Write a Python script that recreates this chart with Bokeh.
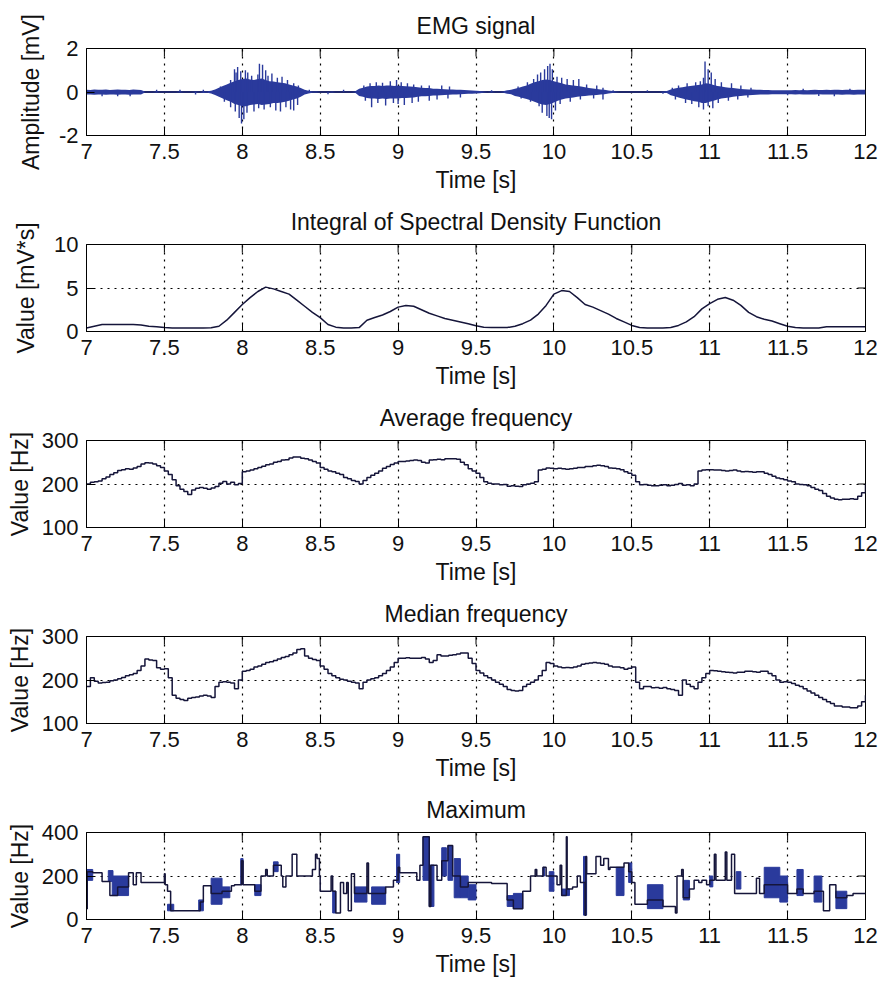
import numpy as np
from bokeh.plotting import figure
from bokeh.models import FixedTicker, Range1d, Title, CustomJSTickFormatter
from bokeh.layouts import column
from bokeh.embed import file_html
from bokeh.resources import INLINE

FONT = "Liberation Sans"
LINE = "#15153a"
BLUE = "#2a3a9c"

x_ticks = [7, 7.5, 8, 8.5, 9, 9.5, 10, 10.5, 11, 11.5, 12]

# uniform sample grids
t_emg = np.linspace(7.0, 12.0, 201)
t_isdf = np.linspace(7.0, 12.0, 101)
t_freq = np.linspace(7.0, 12.0, 201)

# EMG [mV]: dense core of the raw trace (upper / lower bound)
emg_hi = [
    0.10, 0.09, 0.11, 0.10, 0.10, 0.11, 0.09, 0.10, 0.11, 0.10,
    0.10, 0.09, 0.11, 0.10, 0.09, 0.02, 0.02, 0.02, 0.03, 0.02,
    0.02, 0.02, 0.02, 0.02, 0.03, 0.02, 0.02, 0.02, 0.03, 0.02,
    0.04, 0.04, 0.06, 0.12, 0.20, 0.28, 0.35, 0.42, 0.50, 0.55,
    0.60, 0.62, 0.58, 0.55, 0.60, 0.62, 0.55, 0.50, 0.48, 0.45,
    0.42, 0.40, 0.35, 0.30, 0.25, 0.18, 0.10, 0.06, 0.04, 0.03,
    0.02, 0.02, 0.02, 0.03, 0.02, 0.02, 0.02, 0.02, 0.02, 0.04,
    0.15, 0.20, 0.25, 0.28, 0.28, 0.30, 0.28, 0.30, 0.30, 0.28,
    0.30, 0.28, 0.26, 0.25, 0.24, 0.22, 0.20, 0.18, 0.18, 0.15,
    0.15, 0.14, 0.13, 0.12, 0.12, 0.10, 0.10, 0.09, 0.08, 0.07,
    0.06, 0.05, 0.03, 0.02, 0.03, 0.02, 0.02, 0.04, 0.08, 0.10,
    0.15, 0.20, 0.25, 0.30, 0.38, 0.45, 0.50, 0.55, 0.58, 0.55,
    0.50, 0.45, 0.40, 0.35, 0.32, 0.30, 0.28, 0.25, 0.22, 0.18,
    0.16, 0.14, 0.12, 0.10, 0.07, 0.05, 0.03, 0.02, 0.02, 0.02,
    0.02, 0.02, 0.02, 0.02, 0.02, 0.02, 0.02, 0.02, 0.03, 0.05,
    0.12, 0.16, 0.20, 0.22, 0.25, 0.28, 0.30, 0.32, 0.35, 0.40,
    0.38, 0.32, 0.28, 0.25, 0.22, 0.20, 0.18, 0.16, 0.14, 0.13,
    0.12, 0.11, 0.10, 0.10, 0.09, 0.09, 0.08, 0.08, 0.08, 0.08,
    0.08, 0.08, 0.09, 0.08, 0.09, 0.08, 0.09, 0.10, 0.09, 0.09,
    0.10, 0.09, 0.10, 0.10, 0.09, 0.10, 0.10, 0.09, 0.10, 0.10,
    0.10,
]
emg_lo = [
    -0.12, -0.11, -0.13, -0.12, -0.12, -0.13, -0.11, -0.12, -0.13, -0.12,
    -0.12, -0.13, -0.11, -0.12, -0.11, -0.02, -0.02, -0.02, -0.03, -0.02,
    -0.02, -0.02, -0.02, -0.02, -0.03, -0.02, -0.02, -0.02, -0.03, -0.02,
    -0.05, -0.04, -0.07, -0.14, -0.22, -0.30, -0.38, -0.45, -0.55, -0.60,
    -0.65, -0.65, -0.60, -0.58, -0.55, -0.60, -0.58, -0.55, -0.50, -0.50,
    -0.48, -0.45, -0.40, -0.35, -0.30, -0.22, -0.12, -0.07, -0.04, -0.03,
    -0.02, -0.02, -0.02, -0.03, -0.02, -0.02, -0.02, -0.02, -0.02, -0.04,
    -0.18, -0.22, -0.28, -0.30, -0.30, -0.32, -0.30, -0.32, -0.30, -0.30,
    -0.30, -0.28, -0.28, -0.26, -0.25, -0.22, -0.20, -0.20, -0.18, -0.16,
    -0.16, -0.15, -0.14, -0.13, -0.12, -0.11, -0.10, -0.09, -0.08, -0.08,
    -0.07, -0.06, -0.03, -0.02, -0.03, -0.02, -0.02, -0.04, -0.08, -0.10,
    -0.18, -0.22, -0.28, -0.32, -0.38, -0.45, -0.52, -0.58, -0.60, -0.55,
    -0.48, -0.40, -0.35, -0.30, -0.28, -0.25, -0.22, -0.20, -0.18, -0.16,
    -0.15, -0.14, -0.12, -0.10, -0.07, -0.05, -0.03, -0.02, -0.02, -0.02,
    -0.02, -0.02, -0.02, -0.02, -0.02, -0.02, -0.02, -0.02, -0.03, -0.05,
    -0.15, -0.20, -0.25, -0.30, -0.35, -0.38, -0.42, -0.45, -0.50, -0.50,
    -0.45, -0.40, -0.35, -0.30, -0.28, -0.25, -0.22, -0.20, -0.18, -0.16,
    -0.15, -0.14, -0.13, -0.12, -0.12, -0.11, -0.10, -0.10, -0.10, -0.10,
    -0.10, -0.10, -0.11, -0.10, -0.11, -0.12, -0.11, -0.11, -0.10, -0.12,
    -0.12, -0.11, -0.12, -0.12, -0.13, -0.12, -0.12, -0.13, -0.12, -0.12,
    -0.12,
]

# EMG [mV]: single excursions reaching beyond the dense core
emg_spk_t = [
    7.10, 7.20, 7.28, 7.45, 7.60, 7.70, 7.75,
    7.860, 7.925, 7.950, 7.960, 7.970, 7.990, 8.020, 8.035, 8.060, 8.100,
    8.110, 8.130, 8.150, 8.165, 8.190, 8.225, 8.255, 8.290, 8.330, 8.360,
    7.885, 7.925, 7.955, 7.980, 7.995, 8.010, 8.030, 8.075, 8.105, 8.140,
    8.180, 8.215, 8.245, 8.280, 8.310, 8.330, 8.355,
    8.43, 8.55, 8.65,
    8.78, 8.82, 8.86, 8.90, 8.95, 8.99, 9.02, 9.06, 9.10, 9.15, 9.20, 9.28, 9.33,
    8.79, 8.83, 8.87, 8.92, 8.97, 9.00, 9.04, 9.09, 9.13, 9.20, 9.25, 9.32, 9.40,
    9.60,
    9.770, 9.830, 9.870, 9.895, 9.915, 9.940, 9.960, 9.975, 9.990, 10.020,
    10.050, 10.085, 10.125, 10.160, 10.210, 10.275, 10.315,
    9.790, 9.850, 9.905, 9.925, 9.955, 9.970, 9.985, 10.010, 10.040, 10.105,
    10.170, 10.255, 10.315,
    10.38, 10.60, 10.70,
    10.760, 10.800, 10.855, 10.910, 10.940, 10.960, 10.970, 10.990, 11.010, 11.035,
    11.075, 11.140, 11.200, 11.265,
    10.780, 10.845, 10.885, 10.930, 10.960, 10.990, 11.020, 11.055, 11.120, 11.180,
    11.245,
    11.50, 11.60, 11.70, 11.80, 11.90,
]
emg_spk_y = [
    -0.20, -0.20, -0.20, 0.10, 0.10, -0.12, 0.10,
    0.25, 0.55, 1.05, 0.90, 1.15, 0.95, 1.00, 0.90, 0.75, 0.80,
    1.30, 1.25, 1.00, 0.75, 0.85, 0.65, 0.70, 0.55, 0.40, 0.30,
    -0.45, -0.70, -0.90, -1.20, -1.45, -1.25, -0.95, -0.90, -0.75, -0.80,
    -0.70, -0.85, -0.90, -0.70, -0.80, -0.85, -0.60,
    0.10, -0.10, 0.10,
    0.30, 0.40, 0.45, 0.42, 0.50, 0.55, 0.45, 0.40, 0.35, 0.30, 0.30, 0.30, 0.25,
    -0.40, -0.70, -0.50, -0.62, -0.50, -0.55, -0.60, -0.50, -0.45, -0.40, -0.35, -0.30, -0.25,
    0.08,
    0.25, 0.45, 0.60, 0.80, 0.90, 1.05, 1.20, 1.30, 1.05, 0.70,
    0.65, 0.60, 0.55, 0.60, 0.35, 0.30, 0.20,
    -0.30, -0.45, -0.65, -0.95, -1.10, -1.20, -1.25, -0.85, -0.55, -0.45,
    -0.35, -0.30, -0.35,
    0.08, 0.08, -0.08,
    0.20, 0.30, 0.40, 0.45, 0.50, 0.65, 1.40, 1.05, 0.90, 0.60,
    0.45, 0.40, 0.30, 0.20,
    -0.35, -0.50, -0.55, -0.70, -0.80, -0.65, -0.75, -0.50, -0.40, -0.35,
    -0.25,
    -0.15, 0.15, -0.18, -0.20, 0.15,
]

# integral of the spectral density function [mV*s]
isdf = [
    0.40, 0.60, 0.80, 0.80, 0.80, 0.80, 0.80, 0.75, 0.60, 0.55,
    0.45, 0.40, 0.40, 0.40, 0.40, 0.40, 0.42, 0.60, 1.30, 2.20,
    3.10, 3.90, 4.60, 5.10, 4.90, 4.60, 4.30, 3.60, 2.90, 2.20,
    1.60, 0.80, 0.50, 0.40, 0.40, 0.45, 1.30, 1.60, 1.90, 2.30,
    2.80, 3.00, 2.90, 2.50, 2.10, 1.80, 1.50, 1.30, 1.10, 0.90,
    0.65, 0.50, 0.45, 0.45, 0.45, 0.60, 0.90, 1.30, 2.00, 3.00,
    4.30, 4.70, 4.60, 3.90, 3.10, 2.80, 2.40, 2.00, 1.50, 1.10,
    0.70, 0.45, 0.40, 0.40, 0.40, 0.45, 0.70, 1.10, 1.70, 2.60,
    3.20, 3.70, 3.90, 3.60, 3.00, 2.20, 1.70, 1.40, 1.20, 0.90,
    0.60, 0.45, 0.40, 0.40, 0.40, 0.55, 0.55, 0.55, 0.55, 0.55,
    0.55,
]

# average frequency [Hz]
avg_freq = [
    200, 204, 205, 207, 212, 216, 222, 226, 231, 233,
    235, 234, 237, 240, 246, 249, 248, 246, 242, 238,
    230, 222, 210, 196, 188, 183, 176, 186, 190, 192,
    190, 188, 191, 194, 202, 206, 200, 204, 198, 201,
    228, 230, 232, 235, 238, 241, 244, 246, 250, 252,
    255, 256, 260, 262, 262, 259, 258, 255, 252, 248,
    238, 234, 230, 228, 225, 222, 215, 212, 208, 206,
    200, 208, 215, 220, 225, 230, 236, 240, 245, 248,
    252, 252, 253, 254, 255, 254, 250, 248, 255, 256,
    257, 256, 258, 258, 258, 257, 250, 244, 235, 230,
    225, 215, 205, 202, 200, 200, 198, 199, 195, 196,
    195, 194, 198, 200, 202, 205, 232, 234, 237, 236,
    235, 236, 235, 234, 235, 236, 238, 238, 240, 240,
    242, 243, 242, 240, 237, 236, 235, 233, 228, 225,
    220, 205, 198, 199, 197, 196, 196, 197, 198, 196,
    197, 199, 201, 197, 198, 196, 200, 230, 232, 233,
    233, 232, 232, 231, 230, 231, 232, 230, 228, 229,
    228, 227, 228, 228, 225, 222, 218, 214, 212, 210,
    207, 205, 200, 199, 198, 196, 192, 188, 185, 178,
    172, 168, 165, 164, 165, 165, 166, 165, 172, 180,
    200,
]

# median frequency [Hz]
med_freq = [
    185, 205, 197, 193, 194, 195, 198, 200, 203, 206,
    210, 212, 215, 222, 232, 248, 246, 245, 228, 225,
    226, 205, 165, 158, 155, 153, 158, 160, 161, 163,
    165, 163, 160, 185, 195, 196, 195, 193, 180, 200,
    220, 222, 225, 230, 232, 236, 240, 242, 245, 248,
    252, 254, 258, 262, 270, 272, 255, 250, 247, 245,
    232, 225, 215, 210, 205, 202, 200, 197, 195, 193,
    180, 195, 200, 203, 205, 210, 215, 222, 230, 240,
    250, 250, 251, 250, 250, 250, 252, 248, 240, 245,
    258, 255, 255, 257, 258, 260, 262, 262, 250, 238,
    222, 216, 210, 205, 200, 195, 190, 185, 178, 176,
    175, 176, 185, 190, 195, 200, 210, 222, 240, 238,
    232, 230, 228, 229, 228, 230, 232, 236, 238, 239,
    240, 239, 238, 236, 232, 230, 230, 228, 225, 227,
    230, 195, 180, 185, 185, 182, 183, 181, 183, 180,
    178, 176, 165, 200, 190, 185, 180, 195, 205, 215,
    222, 221, 220, 219, 218, 217, 216, 218, 218, 220,
    220, 219, 218, 220, 220, 215, 210, 200, 195, 196,
    195, 192, 188, 185, 180, 175, 170, 165, 160, 155,
    150, 146, 140, 140, 138, 138, 136, 136, 140, 150,
    165,
]

# maximum frequency [Hz]: change points of the held value
max_t = [
    7.000, 7.005, 7.040, 7.100, 7.150, 7.200, 7.270, 7.300, 7.320, 7.350,
    7.500, 7.505, 7.520, 7.540, 7.730, 7.750, 7.800, 7.870, 7.930, 7.950,
    7.995, 8.005, 8.080, 8.120, 8.150, 8.160, 8.200, 8.250, 8.260, 8.280,
    8.320, 8.350, 8.450, 8.470, 8.480, 8.495, 8.500, 8.570, 8.580, 8.600,
    8.630, 8.650, 8.670, 8.680, 8.700, 8.720, 8.800, 8.810, 8.920, 8.970,
    9.000, 9.010, 9.120, 9.140, 9.160, 9.200, 9.210, 9.250, 9.280, 9.320,
    9.350, 9.400, 9.450, 9.600, 9.700, 9.740, 9.800, 9.850, 9.880, 9.890,
    9.930, 9.950, 10.020, 10.040, 10.050, 10.080, 10.085, 10.120, 10.150, 10.170,
    10.200, 10.205, 10.210, 10.270, 10.300, 10.320, 10.350, 10.360, 10.450, 10.480,
    10.500, 10.520, 10.600, 10.700, 10.780, 10.790, 10.820, 10.830, 10.870, 10.900,
    10.930, 10.950, 10.980, 11.000, 11.030, 11.040, 11.100, 11.110, 11.140, 11.160,
    11.300, 11.320, 11.350, 11.500, 11.560, 11.600, 11.670, 11.730, 11.770, 11.810,
    11.880, 11.920, 12.000,
]
max_v = [
    50, 220, 215, 175, 110, 150, 215, 160, 215, 170,
    210, 160, 130, 40, 80, 155, 120, 130, 155, 160,
    270, 160, 130, 200, 230, 200, 250, 200, 150, 200,
    300, 200, 230, 300, 280, 200, 130, 200, 130, 30,
    170, 120, 170, 40, 210, 120, 260, 120, 150, 180,
    240, 215, 180, 250, 380, 60, 250, 180, 270, 340,
    200, 150, 170, 165, 90, 50, 130, 200, 230, 200,
    240, 200, 160, 250, 110, 380, 140, 150, 200, 170,
    20, 290, 210, 290, 250, 280, 230, 240, 260, 220,
    170, 70, 90, 60, 30, 200, 230, 100, 140, 180,
    170, 180, 160, 180, 300, 180, 310, 180, 300, 120,
    190, 120, 160, 120, 140, 120, 130, 40, 160, 100,
    110, 120, 120,
]

# rapidly alternating stretches of the maximum: start, end, low, high
blk_t0 = [7.000, 7.140, 7.165, 7.520, 7.720, 7.800, 7.870, 7.990, 8.080, 8.200,
          8.580, 8.720, 8.830, 8.990, 9.160, 9.200, 9.280, 9.320, 9.360, 9.400,
          9.450, 9.700, 9.740, 9.930, 9.970, 10.050, 10.190, 10.400, 10.480, 10.600,
          10.830, 11.000, 11.170, 11.350, 11.450, 11.560, 11.670, 11.810]
blk_t1 = [7.040, 7.170, 7.270, 7.560, 7.750, 7.870, 7.920, 8.005, 8.120, 8.230,
          8.600, 8.800, 8.920, 9.010, 9.200, 9.230, 9.310, 9.350, 9.400, 9.450,
          9.500, 9.740, 9.800, 9.940, 10.000, 10.100, 10.210, 10.450, 10.500, 10.700,
          10.870, 11.020, 11.200, 11.450, 11.500, 11.600, 11.720, 11.880]
blk_lo = [180, 175, 110, 40, 40, 70, 100, 160, 110, 220,
          30, 80, 70, 170, 180, 60, 200, 180, 100, 100,
          90, 60, 50, 200, 130, 110, 20, 110, 170, 50,
          90, 150, 140, 100, 80, 110, 80, 50]
blk_hi = [230, 225, 200, 70, 90, 190, 150, 280, 160, 265,
          130, 150, 150, 300, 380, 250, 330, 340, 280, 200,
          160, 110, 120, 240, 220, 140, 290, 240, 260, 160,
          180, 200, 220, 240, 200, 230, 200, 130]

tick_fmt = CustomJSTickFormatter(code="return String(Math.round(tick * 10) / 10);")

FRAME_W, FRAME_H = 779, 87
TICK_LEN = 8  # inward tick length in pixels


def panel(title, ylabel, y0, y1, yticks, label_standoff):
    p = figure(
        frame_width=FRAME_W, frame_height=FRAME_H,
        x_range=Range1d(7, 12), y_range=Range1d(y0, y1),
        output_backend="svg", toolbar_location=None,
        min_border_left=86, min_border_right=14,
        min_border_top=48, min_border_bottom=61,
        background_fill_color="white", border_fill_color="white",
    )
    p.title = Title(text=title, align="center", text_font=FONT,
                    text_font_size="23px", text_font_style="normal",
                    text_color="#111111", standoff=20)
    p.outline_line_color = "black"
    p.outline_line_width = 1

    p.xaxis.ticker = FixedTicker(ticks=x_ticks)
    p.yaxis.ticker = FixedTicker(ticks=yticks)
    for ax in (p.xaxis[0], p.yaxis[0]):
        ax.formatter = tick_fmt
        ax.major_tick_in = TICK_LEN
        ax.major_tick_out = 0
        ax.minor_tick_line_color = None
        ax.axis_line_color = "black"
        ax.major_tick_line_color = "black"
        ax.major_label_text_font = FONT
        ax.major_label_text_font_size = "22px"
        ax.major_label_text_color = "#111111"
        ax.axis_label_text_font = FONT
        ax.axis_label_text_font_size = "23px"
        ax.axis_label_text_font_style = "normal"
        ax.axis_label_text_color = "#111111"
    p.xaxis.axis_label = "Time [s]"
    p.xaxis.major_label_standoff = 8
    p.xaxis.axis_label_standoff = 5
    p.yaxis.axis_label = ylabel
    p.yaxis.major_label_standoff = 8
    p.yaxis.axis_label_standoff = label_standoff

    p.xgrid.ticker = FixedTicker(ticks=x_ticks)
    p.ygrid.ticker = FixedTicker(ticks=yticks)
    for g in (p.xgrid[0], p.ygrid[0]):
        g.grid_line_color = "black"
        g.grid_line_dash = "2 5"
        g.grid_line_width = 1.2
        g.grid_line_alpha = 1.0

    # inward tick marks along the top and right edges of the box
    dy = (y1 - y0) * TICK_LEN / FRAME_H
    dx = 5.0 * TICK_LEN / FRAME_W
    p.segment(x0=x_ticks, y0=[y1] * len(x_ticks), x1=x_ticks, y1=[y1 - dy] * len(x_ticks),
              line_color="black", line_width=1)
    p.segment(x0=[12] * len(yticks), y0=yticks, x1=[12 - dx] * len(yticks), y1=yticks,
              line_color="black", line_width=1)
    return p


p1 = panel("EMG signal", "Amplitude [mV]", -2, 2, [-2, 0, 2], 12)
# quiet baseline of the trace, drawn beneath the bursts
p1.line(t_emg, [0] * len(t_emg), line_color=LINE, line_width=2)
p1.varea(x=t_emg, y1=emg_lo, y2=emg_hi, fill_color=BLUE, fill_alpha=1.0)
p1.segment(x0=emg_spk_t, y0=[0] * len(emg_spk_t), x1=emg_spk_t, y1=emg_spk_y,
           line_color=BLUE, line_width=1.4)

p2 = panel("Integral of Spectral Density Function", "Value [mV*s]", 0, 10, [0, 5, 10], 12)
p2.line(t_isdf, isdf, line_color=LINE, line_width=1.5)

p3 = panel("Average frequency", "Value [Hz]", 100, 300, [100, 200, 300], 6)
p3.step(t_freq, avg_freq, mode="after", line_color=LINE, line_width=1.5)

p4 = panel("Median frequency", "Value [Hz]", 100, 300, [100, 200, 300], 6)
p4.step(t_freq, med_freq, mode="after", line_color=LINE, line_width=1.5)

p5 = panel("Maximum", "Value [Hz]", 0, 400, [0, 200, 400], 6)
p5.quad(left=blk_t0, right=blk_t1, bottom=blk_lo, top=blk_hi,
        fill_color=BLUE, line_color=BLUE, line_width=1)
p5.step(max_t, max_v, mode="after", line_color=LINE, line_width=1.5)

layout = column(p1, p2, p3, p4, p5, spacing=0)
open("out.html", "w").write(file_html(layout, INLINE))
